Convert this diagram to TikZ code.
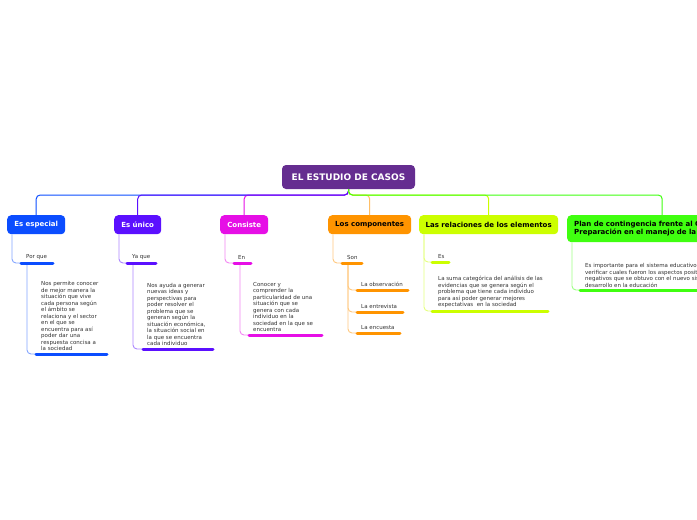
\documentclass[tikz,border=0pt]{standalone}
\usepackage{fontspec}
\setmainfont{DejaVu Sans}
\definecolor{cpurple}{HTML}{652D90}
\definecolor{cblue}{HTML}{0B4DFF}
\definecolor{cviolet}{HTML}{5B10FF}
\definecolor{cmagenta}{HTML}{E60FE6}
\definecolor{corange}{HTML}{FF9400}
\definecolor{clime}{HTML}{CCFF00}
\definecolor{cgreen}{HTML}{40FF10}
\definecolor{textgray}{HTML}{333333}
\tikzset{
  box/.style={rounded corners=4pt, draw=none, inner sep=0pt, font=\bfseries\fontsize{7}{8.5}\selectfont, minimum height=19pt},
  conn/.style={line width=1pt, rounded corners=4pt},
  subconn/.style={line width=0.9pt, rounded corners=4pt},
  uline/.style={line width=3pt, line cap=round},
  sub/.style={inner sep=0pt, anchor=south west, align=left, text=textgray, font=\fontsize{5.5}{6.5}\selectfont},
}
\begin{document}
\begin{tikzpicture}[x=1pt,y=-1pt]
\useasboundingbox (0,0) rectangle (697,520);
\clip (0,0) rectangle (697,520);
\fill[white] (0,0) rectangle (697,520);

% root
\node[box, fill=cpurple, text=white, minimum width=133pt, minimum height=24pt,
      font=\bfseries\fontsize{9}{10}\selectfont] (root) at (348.5,177) {EL ESTUDIO DE CASOS};
\coordinate (hub) at (348.5,195);

% children
\node[box, fill=cblue, text=white, minimum width=58pt, anchor=north west] (c1) at (7,215) {Es especial};
\node[box, fill=cviolet, text=white, minimum width=47pt, anchor=north west] (c2) at (114,215) {Es único};
\node[box, fill=cmagenta, text=white, minimum width=48pt, anchor=north west] (c3) at (220,215) {Consiste};
\node[box, fill=corange, text=black, minimum width=83pt, anchor=north west] (c4) at (328,215) {Los componentes};
\node[box, fill=clime, text=black, minimum width=139pt, anchor=north west] (c5) at (419,215) {Las relaciones de los elementos};
\node[box, fill=cgreen, text=black, minimum height=27pt, text width=176pt, inner xsep=7pt, align=left,
      anchor=north west] (c6) at (567,215) {Plan de contingencia frente al COVID-19:\\Preparación en el manejo de la educación};

% connectors from root
\draw[conn, cblue] (root.south) -- (hub) -| (c1.north);
\draw[conn, cmagenta] (root.south) -- (hub) -| (c3.north);
\draw[conn, cviolet] (root.south) -- (hub) -| (c2.north);
\draw[conn, corange!60] (root.south) -- (hub) -| (c4.north);
\draw[conn, clime] (root.south) -- (hub) -| (c5.north);
\draw[conn, cgreen] (root.south) -- (hub) -| (c6.north);

% ---- branch 1
\coordinate (u1s) at (21,263); \coordinate (u1e) at (53,263);
\coordinate (d1) at (27,263);
\coordinate (w1s) at (36,354); \coordinate (w1e) at (107,354);
\draw[subconn, cblue!50] ([xshift=5pt]c1.south west) |- (u1s);
\draw[subconn, cblue!50] (d1) |- (w1s);
\draw[uline, cblue] (u1s) -- (u1e);
\draw[uline, cblue] (w1s) -- (w1e);
\node[sub] (t1a) at (26,260) {Por que};
\node[sub] (t1b) at (41,351) {Nos permite conocer\\de mejor manera la\\situación que vive\\cada persona según\\el ámbito se\\relaciona y el sector\\en el que se\\encuentra para así\\poder dar una\\respuesta concisa a\\la sociedad};

% ---- branch 2
\coordinate (u2s) at (127,263); \coordinate (u2e) at (156,263);
\coordinate (d2) at (133,263);
\coordinate (w2s) at (143,349); \coordinate (w2e) at (213,349);
\draw[subconn, cviolet!50] ([xshift=5pt]c2.south west) |- (u2s);
\draw[subconn, cviolet!50] (d2) |- (w2s);
\draw[uline, cviolet] (u2s) -- (u2e);
\draw[uline, cviolet] (w2s) -- (w2e);
\node[sub] (t2a) at (132,260) {Ya que};
\node[sub] (t2b) at (147,346) {Nos ayuda a generar\\nuevas ideas y\\perspectivas para\\poder resolver el\\problema que se\\generan según la\\situación económica,\\la situación social en\\la que se encuentra\\cada individuo};

% ---- branch 3
\coordinate (u3s) at (234,263); \coordinate (u3e) at (251,263);
\coordinate (d3) at (240,263);
\coordinate (w3s) at (249,335); \coordinate (w3e) at (322,335);
\draw[subconn, cmagenta!50] ([xshift=5pt]c3.south west) |- (u3s);
\draw[subconn, cmagenta!50] (d3) |- (w3s);
\draw[uline, cmagenta] (u3s) -- (u3e);
\draw[uline, cmagenta] (w3s) -- (w3e);
\node[sub] (t3a) at (238,260) {En};
\node[sub] (t3b) at (253,332) {Conocer y\\comprender la\\particularidad de una\\situación que se\\genera con cada\\individuo en la\\sociedad en la que se\\encuentra};

% ---- branch 4
\coordinate (u4s) at (342,263); \coordinate (u4e) at (362,263);
\coordinate (d4) at (348,263);
\coordinate (o1s) at (357,290); \coordinate (o1e) at (408,290);
\coordinate (o2s) at (357,312); \coordinate (o2e) at (403,312);
\coordinate (o3s) at (357,333); \coordinate (o3e) at (400,333);
\draw[subconn, corange!50] ([xshift=5pt]c4.south west) |- (u4s);
\draw[subconn, corange!50] (d4) |- (o1s);
\draw[subconn, corange!50] (d4) |- (o2s);
\draw[subconn, corange!50] (d4) |- (o3s);
\draw[uline, corange] (u4s) -- (u4e);
\draw[uline, corange] (o1s) -- (o1e);
\draw[uline, corange] (o2s) -- (o2e);
\draw[uline, corange] (o3s) -- (o3e);
\node[sub] (t4a) at (347,260) {Son};
\node[sub] (t4b) at (361,287) {La observación};
\node[sub] (t4c) at (361,309) {La entrevista};
\node[sub] (t4d) at (361,330) {La encuesta};

% ---- branch 5
\coordinate (u5s) at (432,262); \coordinate (u5e) at (449,262);
\coordinate (w5s) at (432,311); \coordinate (w5e) at (548,311);
\draw[subconn, clime!50] ([xshift=5pt]c5.south west) |- (u5s);
\draw[subconn, clime!50] ([xshift=5pt]c5.south west) |- (w5s);
\draw[uline, clime] (u5s) -- (u5e);
\draw[uline, clime] (w5s) -- (w5e);
\node[sub] (t5a) at (438,259) {Es};
\node[sub] (t5b) at (438,308) {La suma categórica del análisis de las\\evidencias que se genera según el\\problema que tiene cada individuo\\para así poder generar mejores\\expectativas\ \ en la sociedad};

% ---- branch 6
\coordinate (w6s) at (580,290); \coordinate (w6e) at (760,290);
\draw[subconn, cgreen!50] ([xshift=5pt]c6.south west) |- (w6s);
\draw[uline, cgreen] (w6s) -- (w6e);
\node[sub] (t6) at (585,287.5) {Es importante para el sistema educativo\\verificar cuales fueron los aspectos positivos y\\negativos que se obtuvo con el nuevo sistema de\\desarrollo en la educación};
\end{tikzpicture}
\end{document}
